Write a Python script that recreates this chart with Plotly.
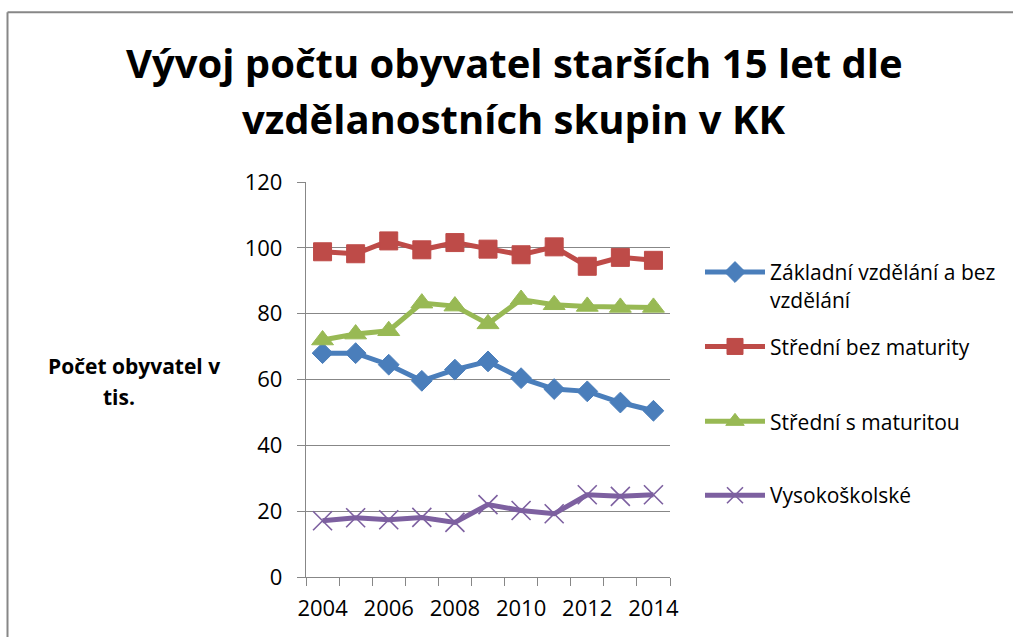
import plotly.graph_objects as go

years = [2004, 2005, 2006, 2007, 2008, 2009, 2010, 2011, 2012, 2013, 2014]
zakladni = [68.0, 68.0, 64.5, 59.6, 63.0, 65.5, 60.4, 57.1, 56.4, 53.0, 50.5]
stredni_bez = [98.8, 98.2, 102.1, 99.4, 101.6, 99.6, 97.9, 100.3, 94.4, 97.1, 96.2]
stredni_s = [72.0, 73.8, 74.8, 83.2, 82.3, 76.9, 84.3, 82.7, 82.2, 81.9, 81.9]
vysokoskolske = [17.1, 18.0, 17.4, 18.1, 16.6, 22.0, 20.2, 19.2, 25.0, 24.5, 25.0]
series_names = ["Základní vzdělání a bez<br>vzdělání", "Střední bez maturity",
                "Střední s maturitou", "Vysokoškolské"]
tick_years = [2004, 2006, 2008, 2010, 2012, 2014]
title_lines = ["Vývoj počtu obyvatel starších 15 let dle", "vzdělanostních skupin v KK"]
ytitle_lines = ["Počet obyvatel v", "tis."]

W, H = 1013, 637
L, R, T, B = 306, 670, 182, 577.5
FONT = "Open Sans"


def px_x(px):
    return (px - L) / (R - L)


def px_y(py):
    return (B - py) / (B - T)


fig = go.Figure()
styles = [
    ("#4A7EBB", dict(symbol="diamond", size=16)),
    ("#BE4B48", dict(symbol="square", size=18)),
    ("#98B954", dict(symbol="triangle-up", size=19)),
    ("#7D60A0", dict(symbol="x-thin", size=19)),
]
legend_ids = ["legend", "legend2", "legend3", "legend4"]
for name, vals, (col, mk), lid in zip(series_names, [zakladni, stredni_bez, stredni_s, vysokoskolske],
                                      styles, legend_ids):
    marker = dict(color=col, line=dict(color=col, width=1.6 if mk["symbol"] == "x-thin" else 1), **mk)
    fig.add_trace(go.Scatter(x=years, y=vals, name=name, mode="lines+markers",
                             line=dict(color=col, width=5), marker=marker,
                             legend=lid))

grid = "#878787"
fig.update_xaxes(range=[2003.5, 2014.5], tickmode="array", tickvals=tick_years,
                 ticktext=[str(y) for y in tick_years], ticks="", showgrid=False,
                 showline=True, linecolor=grid, linewidth=1.3,
                 ticklabelstandoff=11,
                 tickfont=dict(family=FONT, size=22, color="#000"),
                 minor=dict(tickmode="array", tickvals=[y - 0.5 for y in years] + [2014.5],
                            ticks="outside", ticklen=8, tickcolor=grid, tickwidth=1.3,
                            showgrid=False),
                 zeroline=False)
fig.update_yaxes(range=[0, 120], dtick=20, ticks="outside", ticklen=8, tickcolor=grid,
                 tickwidth=1.3, showgrid=True, gridcolor=grid, gridwidth=1.3,
                 showline=True, linecolor=grid, linewidth=1.3, zeroline=False,
                 ticklabelstandoff=10,
                 tickfont=dict(family=FONT, size=22, color="#000"))

annotations = [
    dict(text="<b>%s</b>" % title_lines[0], x=px_x(514), y=px_y(62)),
    dict(text="<b>%s</b>" % title_lines[1], x=px_x(514), y=px_y(118)),
]
for a in annotations:
    a.update(xref="paper", yref="paper", xanchor="center", yanchor="middle", showarrow=False,
             font=dict(family=FONT, size=40, color="#000"))
for txt, cx, cy in [(ytitle_lines[0], 134, 366), (ytitle_lines[1], 119, 397)]:
    annotations.append(dict(text="<b>%s</b>" % txt, x=px_x(cx), y=px_y(cy), xref="paper",
                            yref="paper", xanchor="center", yanchor="middle", showarrow=False,
                            font=dict(family=FONT, size=21, color="#000")))

shapes = [
    dict(type="line", xref="paper", yref="paper", x0=px_x(7.5), x1=px_x(W + 5),
         y0=px_y(12), y1=px_y(12), line=dict(color=grid, width=2)),
    dict(type="line", xref="paper", yref="paper", x0=px_x(7.5), x1=px_x(7.5),
         y0=px_y(12), y1=px_y(H + 5), line=dict(color=grid, width=2)),
]

legend_common = dict(xanchor="left", font=dict(family=FONT, size=21, color="#000"),
                     valign="top", bgcolor="rgba(0,0,0,0)", itemwidth=60)
legend_y = [(286, "middle"), (347, "middle"), (422, "middle"), (496, "middle")]
layout_legends = {}
for lid, (cy, anc) in zip(legend_ids, legend_y):
    layout_legends[lid] = dict(x=px_x(700), y=px_y(cy), yanchor=anc, **legend_common)

fig.update_layout(
    width=W, height=H, autosize=False,
    margin=dict(l=L, r=W - R, t=T, b=H - B, pad=0),
    paper_bgcolor="white", plot_bgcolor="white",
    showlegend=True,
    annotations=annotations, shapes=shapes,
    **layout_legends,
)

fig.write_html("out.html", config={"displayModeBar": False},
               post_script="document.body.style.margin='0';document.body.style.overflow='hidden';")
